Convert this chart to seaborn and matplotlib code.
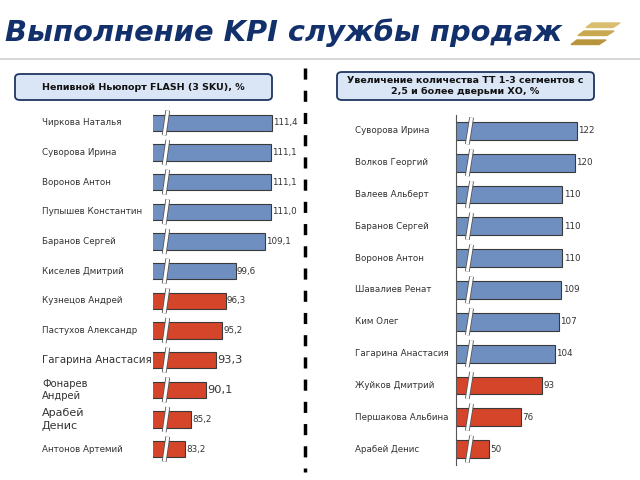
import numpy as np
import pandas as pd
import matplotlib
matplotlib.use("Agg")
import matplotlib.pyplot as plt
import matplotlib.patheffects as pe
from matplotlib.patches import FancyBboxPatch, Polygon
from matplotlib.transforms import blended_transform_factory
import seaborn as sns

# ── data ─────────────────────────────────────────
left_names = ["Чиркова Наталья", "Суворова Ирина", "Воронов Антон",
              "Пупышев Константин", "Баранов Сергей", "Киселев Дмитрий",
              "Кузнецов Андрей", "Пастухов Александр", "Гагарина Анастасия",
              "Фонарев\nАндрей", "Арабей\nДенис", "Антонов Артемий"]
left_values = [111.4, 111.1, 111.1, 111.0, 109.1, 99.6,
               96.3, 95.2, 93.3, 90.1, 85.2, 83.2]
left_status = ["ok"] * 6 + ["low"] * 6

right_names = ["Суворова Ирина", "Волков Георгий", "Валеев Альберт",
               "Баранов Сергей", "Воронов Антон", "Шавалиев Ренат",
               "Ким Олег", "Гагарина Анастасия", "Жуйков Дмитрий",
               "Першакова Альбина", "Арабей Денис"]
right_values = [122, 120, 110, 110, 110, 109, 107, 104, 93, 76, 50]
right_status = ["ok"] * 8 + ["low"] * 3

left_title = "Непивной Ньюпорт FLASH (3 SKU), %"
right_title = "Увеличение количества ТТ 1-3 сегментов с\n2,5 и более дверьми ХО, %"

sns.set_style("white")
plt.rcParams['font.family'] = ['Verdana', 'DejaVu Sans']

palette = {"ok": "#6f8fc1", "low": "#d4452a"}
navy = "#12306b"

fig = plt.figure(figsize=(6.4, 4.8), dpi=100)

# title + logo
fig.text(5 / 640, 1 - 33 / 480, "Выполнение KPI службы продаж", fontsize=20.8,
         fontweight="bold", fontstyle="italic", color=navy, va="center", ha="left")
fig.add_artist(plt.Line2D([0, 1], [1 - 59 / 480] * 2, color="#d0d0d0", lw=1.2))
for y0, x0, w, c in [(23, 586, 34, "#d8be6e"), (31, 578, 36, "#c9a94f"), (40, 571, 35, "#b8943c")]:
    pts = [(x0 + 6, y0), (x0 + w, y0), (x0 + w - 7, y0 + 4.5), (x0, y0 + 4.5)]
    fig.add_artist(Polygon([(x / 640, 1 - y / 480) for x, y in pts],
                           closed=True, color=c, transform=fig.transFigure))

# subtitle boxes
for (x0, y0, x1, y1), txt in [((15, 74, 272, 100), left_title),
                              ((337, 72, 594, 100), right_title)]:
    fig.add_artist(FancyBboxPatch((x0 / 640, 1 - y1 / 480), (x1 - x0) / 640,
                                  (y1 - y0) / 480, boxstyle="round,pad=0,rounding_size=0.008",
                                  transform=fig.transFigure, fc="#dae5f6", ec="#1f3560", lw=1.3))
    fig.text((x0 + x1) / 2 / 640, 1 - (y0 + y1) / 2 / 480, txt, fontsize=6.8,
             fontweight="bold", color="#111111", ha="center", va="center",
             linespacing=1.15)

# dashed divider
fig.add_artist(plt.Line2D([305 / 640] * 2, [1 - 68 / 480, 1 - 472 / 480],
                          color="black", lw=2.5, linestyle=(0, (3.2, 3.2))))


def draw_panel(rect, names, values, status, xlim, brk, label_x, big, fmt, show_axis):
    ax = fig.add_axes(rect)
    df = pd.DataFrame({"name": names, "value": values, "status": status})
    sns.barplot(data=df, x="value", y="name", hue="status", palette=palette,
                dodge=False, orient="h", ax=ax, width=0.56, edgecolor="#3a3a3a",
                linewidth=0.8, legend=False, saturation=1)
    ax.set_xlim(*xlim)
    ax.set_ylim(len(names) - 0.5, -0.5)
    ax.set_xlabel("")
    ax.set_ylabel("")
    ax.set_xticks([])
    ax.set_yticks([])
    sns.despine(ax=ax, left=not show_axis, bottom=True)
    if show_axis:
        ax.spines["left"].set_color("#555555")
        ax.spines["left"].set_linewidth(0.8)
    span = xlim[1] - xlim[0]
    tr = blended_transform_factory(fig.transFigure, ax.transData)
    for i, (n, v) in enumerate(zip(names, values)):
        fs = big.get(n, 6.3)
        ax.text(label_x, i, n, transform=tr, fontsize=fs, color="#333333",
                ha="left", va="center", linespacing=1.3)
        vfs = big.get(fmt(v), 6.3)
        ax.text(v + span * 0.008, i, fmt(v), fontsize=vfs, color="#333333",
                ha="left", va="center")
        ax.plot([brk - span * 0.012, brk + span * 0.012], [i + 0.42, i - 0.42],
                color="white", lw=2.2, solid_capstyle="butt",
                path_effects=[pe.Stroke(linewidth=3.4, foreground="#555555"), pe.Normal()])
    return ax


fmt_left = lambda v: f"{v:.1f}".replace(".", ",")
fmt_right = lambda v: f"{v:d}"

draw_panel([153 / 640, 1 - 464 / 480, 150 / 640, 356 / 480],
           left_names, left_values, left_status, (72.8, 121.4), 77.0, 42 / 640,
           {"Гагарина Анастасия": 7.4, "Фонарев\nАндрей": 7.2, "Арабей\nДенис": 8.0,
            "93,3": 8.2, "90,1": 8.2}, fmt_left, False)

draw_panel([456 / 640, 1 - 465 / 480, 178 / 640, 350 / 480],
           right_names, right_values, right_status, (23, 168.6), 34.0, 355 / 640,
           {}, fmt_right, True)

fig.savefig("out.png", dpi=100)
